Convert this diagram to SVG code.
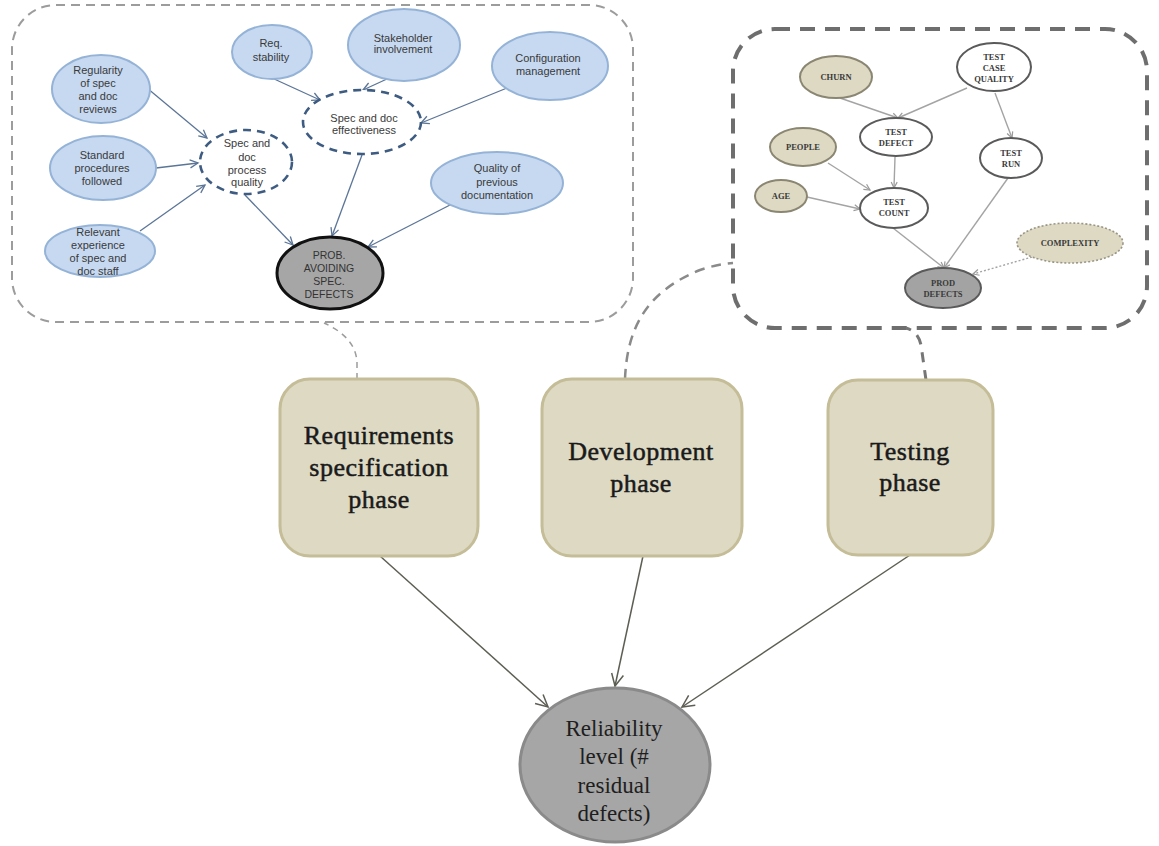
<svg xmlns="http://www.w3.org/2000/svg" width="1159" height="846" viewBox="0 0 1159 846">
  <defs>
    <marker id="arrBlue" markerUnits="userSpaceOnUse" markerWidth="12" markerHeight="12" refX="9" refY="5" orient="auto">
      <path d="M1,1 L9,5 L1,9" fill="none" stroke="#5b7597" stroke-width="1.3"/>
    </marker>
    <marker id="arrGrey" markerUnits="userSpaceOnUse" markerWidth="10" markerHeight="10" refX="7" refY="4" orient="auto">
      <path d="M1,1 L7,4 L1,7" fill="none" stroke="#9a9a9a" stroke-width="1.2"/>
    </marker>
    <marker id="arrDark" markerUnits="userSpaceOnUse" markerWidth="16" markerHeight="16" refX="13" refY="7" orient="auto">
      <path d="M1,1 L13,7 L1,13" fill="none" stroke="#5e5e54" stroke-width="1.5"/>
    </marker>
    <style>
      .panelL { fill: none; stroke: #9c9c9c; stroke-width: 2; stroke-dasharray: 9 6; }
      .panelR { fill: none; stroke: #6e6e6e; stroke-width: 4; stroke-dasharray: 15 10; }
      .blue { fill: #c6d9f1; stroke: #95b3d7; stroke-width: 2; }
      .bdash { fill: #ffffff; stroke: #3e5c82; stroke-width: 2.6; stroke-dasharray: 8 6; }
      .prob { fill: #a6a6a6; stroke: #111111; stroke-width: 3; }
      .tl { font-family: "Liberation Sans", Arial, sans-serif; font-size: 11px; fill: #3a3a3a; text-anchor: middle; }
      .tan { fill: #ddd9c3; stroke: #8a8672; stroke-width: 2; }
      .wht { fill: #ffffff; stroke: #5a5a5a; stroke-width: 2; }
      .pd { fill: #a3a3a3; stroke: #5a5a5a; stroke-width: 2; }
      .cx { fill: #ddd9c3; stroke: #9a9686; stroke-width: 1.6; stroke-dasharray: 2 2; }
      .tr { font-family: "Liberation Serif", "Times New Roman", serif; font-size: 8.5px; font-weight: bold; fill: #3a3a3a; text-anchor: middle; }
      .phase { fill: #ddd9c3; stroke: #c4bd97; stroke-width: 3; }
      .tp { font-family: "Liberation Serif", "Times New Roman", serif; font-size: 26px; fill: #1a1a1a; stroke: #1a1a1a; stroke-width: 0.5; text-anchor: middle; letter-spacing: 0.5px; }
      .rel { fill: #a6a6a6; stroke: #8a8a8a; stroke-width: 3; }
      .trel { font-family: "Liberation Serif", "Times New Roman", serif; font-size: 23px; fill: #1e1e1e; text-anchor: middle; }
      .eb { fill: none; stroke: #5b7597; stroke-width: 1.3; marker-end: url(#arrBlue); }
      .eg { fill: none; stroke: #a4a4a4; stroke-width: 1.4; marker-end: url(#arrGrey); }
      .ed { fill: none; stroke: #5e5e54; stroke-width: 1.5; marker-end: url(#arrDark); }
    </style>
  </defs>

  <rect width="1159" height="846" fill="#ffffff"/>

  <!-- dashed panels holding the detailed sub-models -->
  <rect id="panel-spec" class="panelL" x="12" y="5" width="621" height="317" rx="44" ry="44"/>
  <rect id="panel-test" class="panelR" x="733" y="29" width="414" height="299" rx="42" ry="42"/>

  <g id="connectors">
    <!-- links from the phases to their sub-model panels -->
    <path d="M357,379 L357,362 C356,346 346,333 324,323" fill="none" stroke="#9c9c9c" stroke-width="1.5" stroke-dasharray="6 5"/>
    <path d="M625,379 C627,330 645,292 700,270 C712,266 722,264 733,263" fill="none" stroke="#8a8a8a" stroke-width="2.5" stroke-dasharray="10 7"/>
    <path d="M926,380 L921,345 C919,336 914,330 906,328" fill="none" stroke="#767676" stroke-width="3" stroke-dasharray="10 8"/>

    <!-- specification sub-model edges -->
    <line class="eb" x1="147" y1="88" x2="207" y2="138"/>
    <line class="eb" x1="156" y1="168" x2="198" y2="163"/>
    <line class="eb" x1="140" y1="231" x2="205" y2="185"/>
    <line class="eb" x1="272" y1="78" x2="320" y2="100"/>
    <line class="eb" x1="400" y1="73" x2="363" y2="90"/>
    <line class="eb" x1="507" y1="88" x2="421" y2="123"/>
    <line class="eb" x1="245" y1="195" x2="293" y2="245"/>
    <line class="eb" x1="362" y1="155" x2="332" y2="236"/>
    <line class="eb" x1="450" y1="205" x2="368" y2="247"/>

    <!-- testing sub-model edges -->
    <line class="eg" x1="840" y1="98" x2="898" y2="118"/>
    <line class="eg" x1="967" y1="88" x2="898" y2="118"/>
    <line class="eg" x1="995" y1="93" x2="1012" y2="138"/>
    <line class="eg" x1="828" y1="163" x2="870" y2="190"/>
    <line class="eg" x1="807" y1="197" x2="860" y2="209"/>
    <line class="eg" x1="895" y1="157" x2="894" y2="188"/>
    <line class="eg" x1="893" y1="228" x2="944" y2="268"/>
    <line class="eg" x1="1008" y1="178" x2="944" y2="268"/>
    <line x1="1032" y1="257" x2="973" y2="274" fill="none" stroke="#a4a4a4" stroke-width="1.4" stroke-dasharray="2 2" marker-end="url(#arrGrey)"/>

    <!-- phases into reliability -->
    <line class="ed" x1="380" y1="556" x2="548" y2="707"/>
    <line class="ed" x1="643" y1="556" x2="615" y2="686"/>
    <line class="ed" x1="910" y1="555" x2="682" y2="707"/>
  </g>

  <!-- specification sub-model nodes -->
  <g id="regularity">
    <ellipse class="blue" cx="101" cy="89" rx="49" ry="34"/>
    <text class="tl"><tspan x="98" y="74">Regularity</tspan><tspan x="98" y="87">of spec</tspan><tspan x="98" y="100">and doc</tspan><tspan x="98" y="113">reviews</tspan></text>
  </g>
  <g id="standard-procedures">
    <ellipse class="blue" cx="103" cy="168" rx="53" ry="32"/>
    <text class="tl"><tspan x="102" y="159">Standard</tspan><tspan x="102" y="172">procedures</tspan><tspan x="102" y="185">followed</tspan></text>
  </g>
  <g id="relevant-experience">
    <ellipse class="blue" cx="100" cy="251" rx="55" ry="26"/>
    <text class="tl"><tspan x="98" y="236">Relevant</tspan><tspan x="98" y="249">experience</tspan><tspan x="98" y="262">of spec and</tspan><tspan x="98" y="275">doc staff</tspan></text>
  </g>
  <g id="req-stability">
    <ellipse class="blue" cx="272" cy="52" rx="40" ry="27"/>
    <text class="tl"><tspan x="271" y="47">Req.</tspan><tspan x="271" y="61">stability</tspan></text>
  </g>
  <g id="process-quality">
    <ellipse class="bdash" cx="246" cy="162" rx="46" ry="32"/>
    <text class="tl"><tspan x="247" y="147">Spec and</tspan><tspan x="247" y="161">doc</tspan><tspan x="247" y="174">process</tspan><tspan x="247" y="186">quality</tspan></text>
  </g>
  <g id="stakeholder">
    <ellipse class="blue" cx="404" cy="45" rx="56" ry="36"/>
    <text class="tl"><tspan x="403" y="42">Stakeholder</tspan><tspan x="403" y="53">involvement</tspan></text>
  </g>
  <g id="effectiveness">
    <ellipse class="bdash" cx="362" cy="122" rx="59" ry="32"/>
    <text class="tl"><tspan x="364" y="122">Spec and doc</tspan><tspan x="364" y="134">effectiveness</tspan></text>
  </g>
  <g id="configuration">
    <ellipse class="blue" cx="550" cy="66" rx="58" ry="34"/>
    <text class="tl"><tspan x="548" y="62">Configuration</tspan><tspan x="548" y="75">management</tspan></text>
  </g>
  <g id="previous-documentation">
    <ellipse class="blue" cx="497" cy="183" rx="66" ry="31"/>
    <text class="tl"><tspan x="497" y="172">Quality of</tspan><tspan x="497" y="186">previous</tspan><tspan x="497" y="199">documentation</tspan></text>
  </g>
  <g id="prob-avoiding">
    <ellipse class="prob" cx="330" cy="273" rx="53" ry="36"/>
    <text class="tl" style="font-size:10.5px;fill:#333"><tspan x="329" y="259">PROB.</tspan><tspan x="329" y="272">AVOIDING</tspan><tspan x="329" y="285">SPEC.</tspan><tspan x="329" y="298">DEFECTS</tspan></text>
  </g>

  <!-- testing sub-model nodes -->
  <g id="churn">
    <ellipse class="tan" cx="836" cy="77" rx="36" ry="21"/>
    <text class="tr" x="836" y="80">CHURN</text>
  </g>
  <g id="test-case-quality">
    <ellipse class="wht" cx="994" cy="67" rx="37" ry="24"/>
    <text class="tr"><tspan x="994" y="60">TEST</tspan><tspan x="994" y="71">CASE</tspan><tspan x="994" y="82">QUALITY</tspan></text>
  </g>
  <g id="test-defect">
    <ellipse class="wht" cx="896" cy="137" rx="36" ry="19"/>
    <text class="tr"><tspan x="896" y="135">TEST</tspan><tspan x="896" y="146">DEFECT</tspan></text>
  </g>
  <g id="people">
    <ellipse class="tan" cx="803" cy="147" rx="33" ry="19"/>
    <text class="tr" x="803" y="150">PEOPLE</text>
  </g>
  <g id="test-run">
    <ellipse class="wht" cx="1011" cy="158" rx="31" ry="20"/>
    <text class="tr"><tspan x="1011" y="156">TEST</tspan><tspan x="1011" y="167">RUN</tspan></text>
  </g>
  <g id="age">
    <ellipse class="tan" cx="781" cy="196" rx="26" ry="16"/>
    <text class="tr" x="781" y="199">AGE</text>
  </g>
  <g id="test-count">
    <ellipse class="wht" cx="894" cy="208" rx="34" ry="20"/>
    <text class="tr"><tspan x="894" y="205">TEST</tspan><tspan x="894" y="216">COUNT</tspan></text>
  </g>
  <g id="complexity">
    <ellipse class="cx" cx="1070" cy="243" rx="53" ry="20"/>
    <text class="tr" x="1070" y="246">COMPLEXITY</text>
  </g>
  <g id="prod-defects">
    <ellipse class="pd" cx="943" cy="288" rx="38" ry="20"/>
    <text class="tr"><tspan x="943" y="286">PROD</tspan><tspan x="943" y="297">DEFECTS</tspan></text>
  </g>

  <!-- lifecycle phases -->
  <g id="phase-requirements">
    <rect class="phase" x="280" y="379" width="198" height="177" rx="30" ry="30"/>
    <text class="tp"><tspan x="379" y="444">Requirements</tspan><tspan x="379" y="476">specification</tspan><tspan x="379" y="508">phase</tspan></text>
  </g>
  <g id="phase-development">
    <rect class="phase" x="542" y="379" width="200" height="177" rx="30" ry="30"/>
    <text class="tp"><tspan x="641" y="460">Development</tspan><tspan x="641" y="492">phase</tspan></text>
  </g>
  <g id="phase-testing">
    <rect class="phase" x="828" y="380" width="165" height="175" rx="30" ry="30"/>
    <text class="tp"><tspan x="910" y="460">Testing</tspan><tspan x="910" y="491">phase</tspan></text>
  </g>

  <!-- outcome -->
  <g id="reliability">
    <ellipse class="rel" cx="615" cy="765" rx="95" ry="77"/>
    <text class="trel"><tspan x="614" y="736">Reliability</tspan><tspan x="614" y="764">level (#</tspan><tspan x="614" y="793">residual</tspan><tspan x="614" y="821">defects)</tspan></text>
  </g>
</svg>
